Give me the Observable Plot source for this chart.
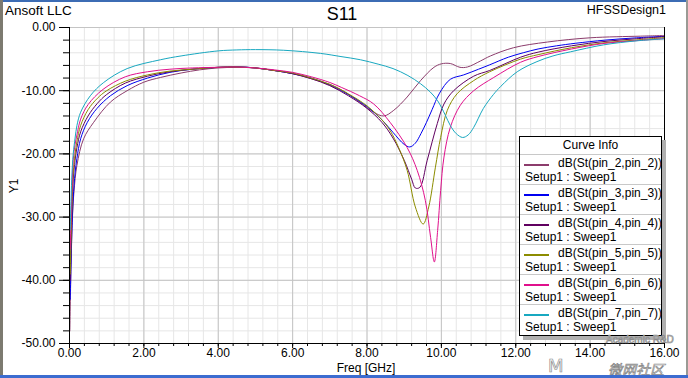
<!DOCTYPE html>
<html><head><meta charset="utf-8">
<script src="https://cdn.jsdelivr.net/npm/d3@7"></script>
<script src="https://cdn.jsdelivr.net/npm/@observablehq/plot@0.6"></script>
<style>
body{margin:0;background:#fff;font-family:"Liberation Sans",Arial,sans-serif;}
#wrap{position:relative;width:688px;height:378px;overflow:hidden;background:#fff;}
#chart{position:absolute;left:0;top:0;}
.t{position:absolute;white-space:nowrap;color:#000;}
#legend{position:absolute;left:519px;top:136px;width:141px;height:198px;border:1px solid #000;background:#fff;box-shadow:4px 4px 0 #b0b0b0;font-size:12px;}
#legend .lt{height:17px;line-height:17px;text-align:center;border-bottom:1px solid #c8c8c8;}
#legend .row{position:relative;height:29px;border-bottom:1px solid #c8c8c8;}
#legend .row:last-child{border-bottom:none;}
#legend .sw{position:absolute;left:4px;top:9px;width:25px;height:2px;}
#legend .l1{position:absolute;left:38px;top:2px;line-height:13px;}
#legend .l2{position:absolute;left:5px;top:16px;line-height:13px;}
.wm{position:absolute;color:#fff;-webkit-text-stroke:0.7px #8a8a8a;white-space:nowrap;line-height:1;}
</style></head><body>
<div id="wrap">
  <div id="chart"></div>
  <div class="t" style="left:5px;top:3px;font-size:13.5px;">Ansoft LLC</div>
  <div class="t" style="left:0;width:684px;top:4px;font-size:18px;text-align:center;">S11</div>
  <div class="t" style="right:22px;top:3px;font-size:12.5px;">HFSSDesign1</div>
  <div class="t" style="left:14px;top:186px;font-size:12px;transform:translate(-50%,-50%) rotate(-90deg);">Y1</div>
  <div class="t" style="left:366px;top:368px;font-size:12px;line-height:12px;transform:translate(-50%,-50%);">Freq [GHz]</div>
  <div id="legend"></div>
  <div class="wm" style="left:548px;top:357px;font-size:18px;font-family:'DejaVu Sans';">M</div>
  <div class="wm" style="left:606px;top:335px;font-size:10px;">Academic R&amp;D</div>
  <div class="wm" style="left:608px;top:362px;font-size:14px;font-style:italic;font-family:'Noto Sans CJK SC';">微网社区</div>
  <div style="position:absolute;left:0;top:0;width:688px;height:2px;background:#3c6cb4;"></div>
  <div style="position:absolute;left:0;top:0;width:3px;height:378px;background:#7c7a70;"></div>
  <div style="position:absolute;right:0;top:0;width:2px;height:378px;background:#9a9a94;"></div>
  <div style="position:absolute;left:0;bottom:0;width:688px;height:3px;background:#3c6cd0;"></div>
</div>
<script>
const seriesNames = ["dB(St(pin_2,pin_2))","dB(St(pin_3,pin_3))","dB(St(pin_4,pin_4))","dB(St(pin_5,pin_5))","dB(St(pin_6,pin_6))","dB(St(pin_7,pin_7))"];
const seriesColors = ["#8c3c6c","#0000f0","#600060","#8c8c00","#e0108c","#18a8c0"];
const setupLabel = "Setup1 : Sweep1";
const xMajor = [0,2,4,6,8,10,12,14,16];
const xMinor = d3.range(0, 16.001, 0.4);
const yMajor = [-50,-40,-30,-20,-10,0];
const yMinor = d3.range(-50, 0.001, 2);

const pin2 = [[0.01,-48],[0.04,-38],[0.08,-30],[0.12,-26],[0.2,-21.8],[0.38,-17.6],[0.65,-15],[1.1,-11.8],[1.55,-10],[2.0,-8.65],[2.45,-7.9],[3.0,-7.2],[3.5,-6.7],[4,-6.4],[4.5,-6.3],[5,-6.4],[5.5,-6.8],[6,-7.3],[6.5,-8.1],[7,-9.0],[7.32,-9.9],[7.8,-11.8],[8.18,-13.4],[8.45,-14.0],[8.72,-13.1],[9.08,-11.0],[9.44,-8.4],[9.8,-6.3],[10.0,-5.75],[10.24,-5.7],[10.5,-6.3],[10.7,-6.25],[11.05,-5.3],[11.32,-4.5],[11.94,-3.2],[12.85,-2.3],[14.0,-1.63],[15.35,-1.37],[16,-1.27]];
const pin3 = [[0.02,-43],[0.06,-33],[0.1,-27],[0.15,-23],[0.2,-20.7],[0.3,-17.6],[0.48,-15],[0.74,-12.8],[1.1,-10.8],[1.55,-9.2],[2.1,-8.0],[2.7,-7.1],[3.3,-6.6],[4,-6.3],[4.5,-6.2],[5,-6.4],[5.5,-6.8],[6,-7.3],[6.5,-8.0],[7,-9.1],[7.5,-10.6],[8,-12.5],[8.4,-14.6],[8.7,-16.6],[9.0,-18.5],[9.15,-18.9],[9.3,-18.3],[9.45,-16.8],[9.6,-15.0],[9.75,-13.0],[9.95,-10.4],[10.24,-8.2],[10.6,-7.5],[11.0,-6.6],[11.3,-5.9],[11.8,-4.7],[12.2,-4.0],[12.6,-3.4],[13.1,-2.9],[13.6,-2.5],[14.4,-2.0],[15.2,-1.65],[16,-1.4]];
const pin4 = [[0.02,-40],[0.06,-30],[0.1,-24],[0.15,-21],[0.2,-19],[0.3,-16.5],[0.5,-14],[0.75,-12],[1.0,-10.6],[1.5,-8.8],[2.1,-7.7],[2.7,-7.0],[3.3,-6.6],[4,-6.3],[4.5,-6.25],[5,-6.4],[5.5,-6.8],[6,-7.3],[6.5,-8.1],[7,-9.2],[7.5,-10.8],[8,-12.8],[8.4,-15.0],[8.7,-17.5],[9.0,-21.0],[9.2,-24.0],[9.3,-25.4],[9.42,-25.3],[9.62,-21],[9.89,-15.2],[10.07,-12.1],[10.33,-10.0],[10.87,-7.7],[11.3,-6.8],[12.13,-4.7],[12.6,-3.9],[13.5,-2.9],[14.4,-2.2],[15.2,-1.8],[16,-1.45]];
const pin5 = [[0.02,-39],[0.06,-29],[0.1,-23],[0.15,-20],[0.2,-18],[0.3,-15.5],[0.5,-13],[0.75,-11.2],[1.0,-10.0],[1.5,-8.5],[2.1,-7.5],[2.7,-6.9],[3.3,-6.6],[4,-6.3],[4.5,-6.25],[5,-6.4],[5.5,-6.8],[6,-7.2],[6.5,-8.0],[7,-9.0],[7.5,-10.5],[8,-12.4],[8.4,-14.6],[8.62,-16.3],[8.85,-19],[9.08,-22.6],[9.3,-28.4],[9.51,-31.1],[9.66,-28.4],[9.84,-22.1],[9.98,-17.4],[10.16,-13.1],[10.42,-10.5],[10.87,-8.4],[11.3,-7.0],[12.13,-5.0],[12.6,-4.3],[13.5,-3.2],[14.4,-2.4],[15.2,-2.0],[16,-1.6]];
const pin6 = [[0.02,-35],[0.06,-27],[0.1,-21],[0.15,-18.5],[0.2,-17],[0.3,-14.5],[0.5,-12.2],[0.9,-9.8],[1.5,-7.8],[2.1,-7.0],[2.7,-6.6],[3.3,-6.4],[4,-6.3],[4.5,-6.25],[5,-6.4],[5.5,-6.7],[6,-7.1],[6.5,-7.8],[7,-8.7],[7.32,-9.5],[7.8,-10.8],[8.18,-12.1],[8.62,-15.0],[9.08,-19.0],[9.35,-22.6],[9.57,-27.4],[9.71,-33.2],[9.81,-37.1],[9.9,-32.1],[9.98,-25.8],[10.07,-20.5],[10.24,-15.8],[10.51,-12.3],[10.87,-10.0],[11.41,-7.9],[12.13,-5.5],[12.6,-4.6],[13.5,-3.4],[14.4,-2.5],[15.2,-2.1],[16,-1.75]];
const pin7 = [[0.02,-32],[0.06,-24],[0.1,-20],[0.15,-17.5],[0.2,-15.5],[0.3,-13.4],[0.56,-10.8],[0.92,-8.7],[1.55,-6.5],[2.45,-5.1],[3.0,-4.5],[4.0,-3.7],[4.5,-3.55],[5.0,-3.5],[5.76,-3.6],[6.75,-4.1],[7.3,-4.6],[7.82,-5.1],[8.3,-5.8],[8.7,-6.5],[9.1,-7.6],[9.44,-8.9],[9.7,-10.2],[9.9,-11.6],[10.1,-13.8],[10.24,-15.5],[10.4,-16.8],[10.57,-17.4],[10.72,-17.0],[10.87,-15.8],[11.13,-12.8],[11.4,-10.6],[11.6,-9.3],[12.04,-7.0],[12.57,-5.4],[13.0,-4.5],[13.47,-3.85],[14.36,-2.75],[15.27,-2.1],[16,-1.8]];

const allSeries = [pin2, pin3, pin4, pin5, pin6, pin7];
const data = allSeries.flatMap((s, i) => s.map(([f, db]) => ({f, db, series: seriesNames[i]})));

const fmt = d => d.toFixed(2);
const chart = Plot.plot({
  width: 688, height: 378,
  marginLeft: 69, marginRight: 24, marginTop: 27, marginBottom: 35,
  x: {domain: [0, 16]},
  y: {domain: [-50, 0]},
  color: {domain: seriesNames, range: seriesColors},
  style: {fontFamily: "Liberation Sans, Arial, sans-serif", fontSize: "12px", color: "#000", background: "transparent", overflow: "visible"},
  marks: [
    Plot.gridX(xMinor, {stroke: "#e6e6e6", strokeOpacity: 1}),
    Plot.gridY(yMinor, {stroke: "#e6e6e6", strokeOpacity: 1}),
    Plot.gridX(xMajor, {stroke: "#c4c4c4", strokeOpacity: 1}),
    Plot.gridY(yMajor, {stroke: "#c4c4c4", strokeOpacity: 1}),
    Plot.axisY(yMinor, {tickSize: 6, tickFormat: () => "", label: null}),
    Plot.axisY(yMajor, {tickSize: 10, tickPadding: 4, tickFormat: fmt, label: null, fontSize: 12}),
    Plot.axisX(xMinor, {tickSize: 3, tickFormat: () => "", label: null}),
    Plot.axisX(xMajor, {tickSize: 5, tickPadding: 0, tickFormat: fmt, label: null, fontSize: 12}),
    Plot.line(data, {x: "f", y: "db", z: "series", stroke: "series", strokeWidth: 1, curve: "catmull-rom"}),
    Plot.ruleX([0], {stroke: "#000"}),
    Plot.ruleX([16], {stroke: "#000"}),
    Plot.ruleY([-50], {stroke: "#000"})
  ]
});
document.getElementById("chart").appendChild(chart);

const legend = document.getElementById("legend");
const title = document.createElement("div");
title.className = "lt"; title.textContent = "Curve Info";
legend.appendChild(title);
seriesNames.forEach((name, i) => {
  const row = document.createElement("div");
  row.className = "row";
  const sw = document.createElement("div"); sw.className = "sw"; sw.style.background = seriesColors[i];
  const l1 = document.createElement("div"); l1.className = "l1"; l1.textContent = name;
  const l2 = document.createElement("div"); l2.className = "l2"; l2.textContent = setupLabel;
  row.append(sw, l1, l2);
  legend.appendChild(row);
});
</script>
</body></html>
